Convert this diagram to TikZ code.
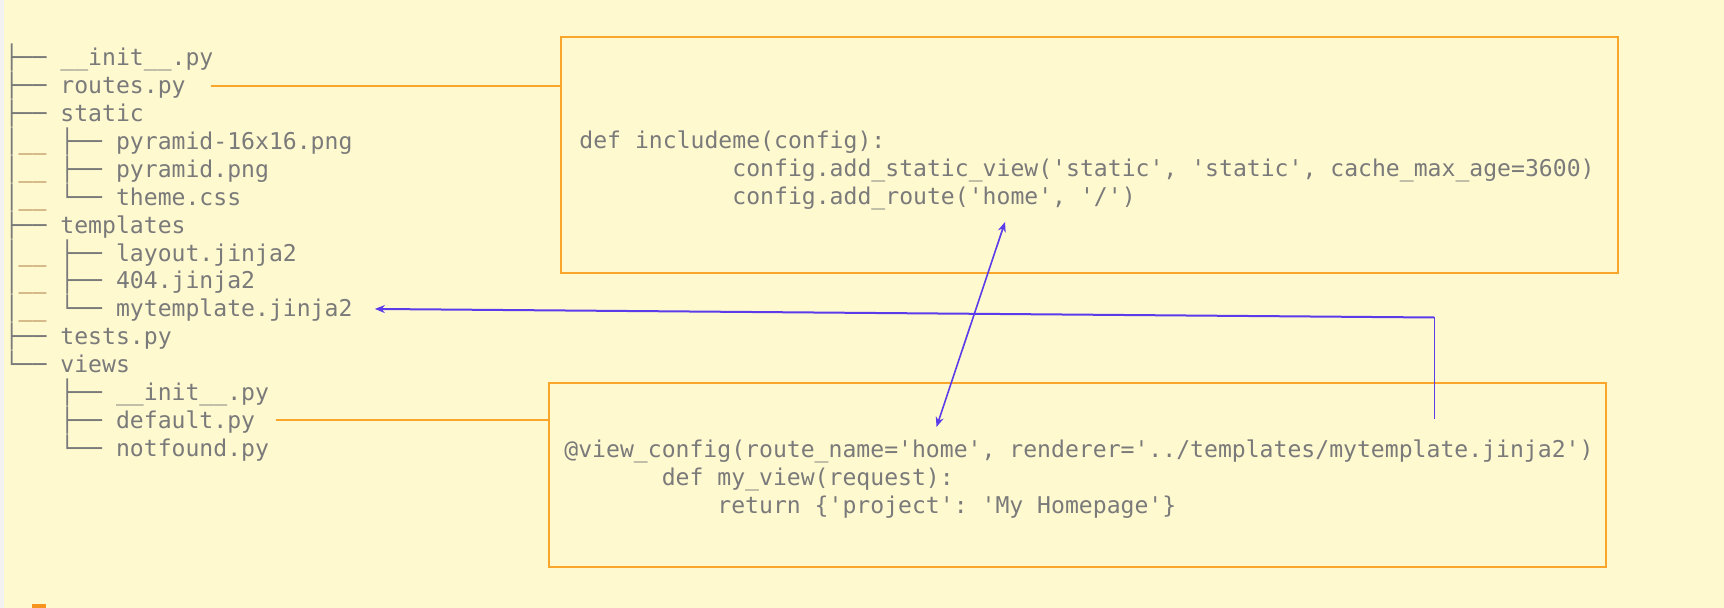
\documentclass[tikz,border=0pt]{standalone}
\usepackage{fontspec}
\setmonofont{DejaVu Sans Mono}
\usetikzlibrary{positioning}
\usetikzlibrary{arrows.meta}

\definecolor{bgyellow}{RGB}{255,249,207}
\definecolor{stripgray}{RGB}{242,242,242}
\definecolor{textgray}{RGB}{122,122,122}
\definecolor{treebrown}{RGB}{168,112,56}
\definecolor{boxorange}{RGB}{249,166,43}
\definecolor{markorange}{RGB}{247,148,30}
\definecolor{linkblue}{RGB}{90,60,235}

\newcommand{\codepad}[1]{\hspace*{#1\dimexpr0.60205em\relax}}
\newcommand{\subbar}{│{\color{treebrown}\_\_} }

\begin{document}
\begin{tikzpicture}[x=0.5pt, y=-0.5pt,
    entry/.style={anchor=base west, inner sep=0pt, text=textgray,
        font=\ttfamily\fontsize{11.55pt}{13.93pt}\selectfont},
    codebox/.style={rectangle, draw=boxorange, line width=1pt, minimum width=528.5pt},
    feed/.style={draw=boxorange, line width=0.75pt},
    link/.style={draw=linkblue, line width=0.8pt},
    >={Stealth[length=5pt, width=4pt]}]
    \useasboundingbox (0,0) rectangle (1724,608);
    \fill [bgyellow] (0,0) rectangle (1724,608);
    \fill [stripgray] (0,0) rectangle (4,608);
    \fill [markorange] (32,604) rectangle (46,608);

    % project tree
    \node (init) [entry] at (4.4,66) {├── \_\_init\_\_.py};
    \node (routes) [entry] at (4.4,93.86) {├── routes.py};
    \node (static) [entry] at (4.4,121.72) {├── static};
    \node (pyicon) [entry] at (4.4,149.58) {\subbar├── pyramid-16x16.png};
    \node (pypng) [entry] at (4.4,177.44) {\subbar├── pyramid.png};
    \node (theme) [entry] at (4.4,205.3) {\subbar└── theme.css};
    \node (templates) [entry] at (4.4,233.16) {├── templates};
    \node (layout) [entry] at (4.4,261.02) {\subbar├── layout.jinja2};
    \node (errtpl) [entry] at (4.4,288.88) {\subbar├── 404.jinja2};
    \node (mytpl) [entry] at (4.4,316.74) {\subbar└── mytemplate.jinja2};
    \node (tests) [entry] at (4.4,344.6) {├── tests.py};
    \node (views) [entry] at (4.4,372.46) {└── views};
    \node (viewsinit) [entry] at (4.4,400.32) {\codepad{4}├── \_\_init\_\_.py};
    \node (default) [entry] at (4.4,428.18) {\codepad{4}├── default.py};
    \node (notfound) [entry] at (4.4,456.04) {\codepad{4}└── notfound.py};

    % routes.py
    \node (routecfg) [codebox, minimum height=118.25pt] at (1089.5,155.25) {};
    \node (cfgdef) [entry] at (579,149) {def includeme(config):};
    \node (cfgstatic) [entry] at (579,177) {\codepad{11}config.add\_static\_view('static', 'static', cache\_max\_age=3600)};
    \node (cfgroute) [entry] at (579,205) {\codepad{11}config.add\_route('home', '/')};
    \draw [feed, shorten <=12.5pt] (routes.east) -- (routes.east -| routecfg.west);

    % views/default.py
    \node (viewcfg) [codebox, minimum height=91.85pt] at (1077.25,474.85) {};
    \node (viewdeco) [entry] at (564,458) {@view\_config(route\_name='home', renderer='../templates/mytemplate.jinja2')};
    \node (viewdef) [entry] at (564,486) {\codepad{7}def my\_view(request):};
    \node (viewret) [entry] at (564,513.5) {\codepad{11}return \{'project': 'My Homepage'\}};
    \draw [feed, shorten <=10pt] (default.east) -- (default.east -| viewcfg.west);

    % links
    \coordinate (homeref) at (1005,222);
    \coordinate (homeview) at (936.5,427);
    \draw [link, <->] (homeref) -- (homeview);
    \coordinate (tplref) at (1434,419);
    \coordinate (tplbend) at (1434,317.5);
    \draw [link, line width=0.5pt] (tplref) -- (tplbend);
    \draw [link, ->, line width=1pt, shorten >=11pt] (tplbend) -- (mytpl.east);
\end{tikzpicture}
\end{document}
